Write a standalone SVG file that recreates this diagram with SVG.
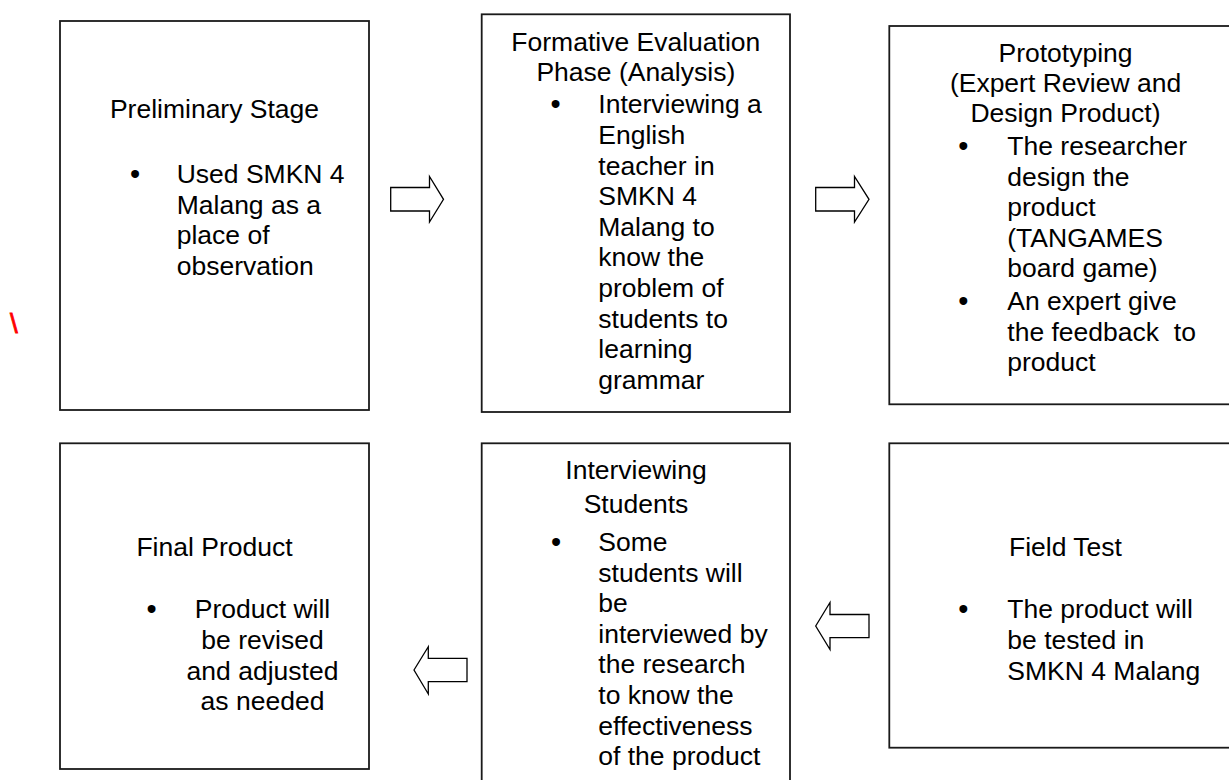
<svg xmlns="http://www.w3.org/2000/svg" width="1229" height="780" viewBox="0 0 1229 780">
<style>
.box{fill:#fff;stroke:#1a1a1a;stroke-width:1.8}
.arr{fill:#fff;stroke:#000;stroke-width:1.3;stroke-linejoin:miter}
text{font-family:"Liberation Sans",Arial,sans-serif;font-size:26.5px;fill:#000}
.c{text-anchor:middle}
.b{text-anchor:middle;font-size:29px}
</style>
<rect width="1229" height="780" fill="#fff"/>
<g id="connectors">
<polygon class="arr" points="390.7,187.5 429.5,187.5 429.5,176.5 443.5,199.3 429.5,222 429.5,211 390.7,211"/>
<polygon class="arr" points="815.7,187.5 854.5,187.5 854.5,176.5 869,199.3 854.5,222 854.5,211 815.7,211"/>
<polygon class="arr" points="815.7,626 830,602.5 830,614.5 869,614.5 869,637.7 830,637.7 830,649.5"/>
<polygon class="arr" points="414,670 428.3,646.7 428.3,658.3 467,658.3 467,681.7 428.3,681.7 428.3,694"/>
</g>
<g id="preliminary">
<rect class="box" x="60" y="21" width="309" height="389"/>
<text class="c" x="214.5" y="118">Preliminary Stage</text>
<text class="b" x="135" y="184">•</text>
<text x="176.7" y="183">Used SMKN 4</text>
<text x="176.7" y="213.5">Malang as a</text>
<text x="176.7" y="244">place of</text>
<text x="176.7" y="274.5">observation</text>
</g>
<g id="formative">
<rect class="box" x="481.7" y="14.3" width="308.3" height="397.7"/>
<text class="c" x="635.8" y="50.7">Formative Evaluation</text>
<text class="c" x="635.8" y="81">Phase (Analysis)</text>
<text class="b" x="555.7" y="114.3">•</text>
<text x="598.3" y="113.3">Interviewing a</text>
<text x="598.3" y="143.9">English</text>
<text x="598.3" y="174.5">teacher in</text>
<text x="598.3" y="205.1">SMKN 4</text>
<text x="598.3" y="235.7">Malang to</text>
<text x="598.3" y="266.3">know the</text>
<text x="598.3" y="296.9">problem of</text>
<text x="598.3" y="327.5">students to</text>
<text x="598.3" y="358.1">learning</text>
<text x="598.3" y="388.7">grammar</text>
</g>
<g id="prototyping">
<rect class="box" x="889.3" y="26" width="353" height="378.3"/>
<text class="c" x="1065.5" y="62">Prototyping</text>
<text class="c" x="1065.5" y="91.7">(Expert Review and</text>
<text class="c" x="1065.5" y="121.7">Design Product)</text>
<text class="b" x="963.3" y="156">•</text>
<text x="1007.3" y="155">The researcher</text>
<text x="1007.3" y="185.5">design the</text>
<text x="1007.3" y="216">product</text>
<text x="1007.3" y="246.5">(TANGAMES</text>
<text x="1007.3" y="277">board game)</text>
<text class="b" x="963.3" y="311">•</text>
<text x="1007.3" y="310" xml:space="preserve">An expert give</text>
<text x="1007.3" y="340.5" xml:space="preserve">the feedback  to</text>
<text x="1007.3" y="371">product</text>
</g>
<g id="final">
<rect class="box" x="60" y="443.3" width="309" height="325.7"/>
<text class="c" x="214.5" y="555.7">Final Product</text>
<text class="b" x="151.7" y="619.3">•</text>
<text class="c" x="262.5" y="618.3">Product will</text>
<text class="c" x="262.5" y="649">be revised</text>
<text class="c" x="262.5" y="679.5">and adjusted</text>
<text class="c" x="262.5" y="710">as needed</text>
</g>
<g id="interviewing">
<rect class="box" x="481.7" y="443.3" width="308.3" height="345"/>
<text class="c" x="636" y="479">Interviewing</text>
<text class="c" x="636" y="513.3">Students</text>
<text class="b" x="556" y="551.7">•</text>
<text x="598.3" y="550.7">Some</text>
<text x="598.3" y="581.5">students will</text>
<text x="598.3" y="612">be</text>
<text x="598.3" y="642.5">interviewed by</text>
<text x="598.3" y="673.2">the research</text>
<text x="598.3" y="703.9">to know the</text>
<text x="598.3" y="734.5">effectiveness</text>
<text x="598.3" y="765">of the product</text>
</g>
<g id="fieldtest">
<rect class="box" x="889.3" y="443.3" width="353" height="304.4"/>
<text class="c" x="1065.5" y="555.7">Field Test</text>
<text class="b" x="963.3" y="619.3">•</text>
<text x="1007.3" y="618.3">The product will</text>
<text x="1007.3" y="649.3">be tested in</text>
<text x="1007.3" y="679.8">SMKN 4 Malang</text>
</g>
<text x="10" y="333" style="fill:#ff0000;stroke:#ff0000;stroke-width:0.8;font-size:28px">\</text>
</svg>
